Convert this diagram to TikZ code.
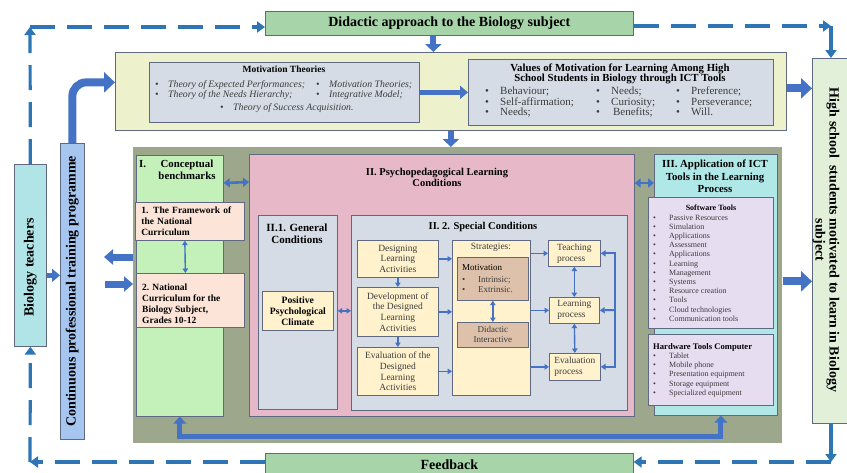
\documentclass[tikz,border=0pt]{standalone}
\usepackage{fontspec}
\setmainfont{Liberation Serif}
\usetikzlibrary{arrows.meta,positioning,calc}

\definecolor{cBlue}{RGB}{68,114,196}
\definecolor{cDash}{RGB}{46,117,182}
\definecolor{cBorder}{RGB}{95,105,130}
\definecolor{cGreen}{RGB}{168,212,170}
\definecolor{cYel}{RGB}{238,242,204}
\definecolor{cSlate}{RGB}{214,220,229}
\definecolor{cOlive}{RGB}{156,167,140}
\definecolor{cLGreen}{RGB}{196,240,186}
\definecolor{cPeach}{RGB}{252,229,216}
\definecolor{cPink}{RGB}{230,184,200}
\definecolor{cCream}{RGB}{255,242,204}
\definecolor{cTan}{RGB}{221,193,170}
\definecolor{cCyan}{RGB}{176,232,232}
\definecolor{cLav}{RGB}{230,221,240}
\definecolor{cTeach}{RGB}{176,228,230}
\definecolor{cProg}{RGB}{166,198,240}
\definecolor{cMint}{RGB}{226,240,218}
\definecolor{cText}{RGB}{60,60,60}

\newcommand{\fsz}[2]{\fontsize{#1}{#2}\selectfont}
\newcommand{\bul}[1]{\makebox[#1][l]{\textbullet}}

\begin{document}
\begin{tikzpicture}[x=1pt,y=-1pt,
  box/.style={draw=cBorder, line width=0.7pt, inner sep=2pt, anchor=north west},
  txt/.style={inner sep=0pt},
  flow/.style={cBlue, line width=1.4pt, -{Triangle[length=4.5pt,width=5.5pt]}},
  both/.style={cBlue, line width=1.4pt, {Triangle[length=4.5pt,width=5.5pt]}-{Triangle[length=4.5pt,width=5.5pt]}},
  rail/.style={cBlue, line width=2pt},
  link/.style={cBlue, line width=2.6pt, {Triangle[length=6pt,width=9pt]}-{Triangle[length=6pt,width=9pt]}},
  midfat/.style={cBlue, line width=5pt, -{Triangle[length=8pt,width=13pt]}},
  fat/.style={cBlue, line width=6pt, -{Triangle[length=8pt,width=16pt]}},
  block/.style={cBlue, line width=7pt, -{Triangle[length=9pt,width=15pt]}},
  huge/.style={cBlue, line width=8pt, -{Triangle[length=11pt,width=20pt]}},
  dashflow/.style={cDash, line width=3.2pt, dash pattern=on 25pt off 12pt, -{Triangle[length=8pt,width=11pt]}},
  solidflow/.style={cDash, line width=3.2pt, -{Triangle[length=8pt,width=11pt]}}]
\fill[white] (0,0) rectangle (847,472);
\useasboundingbox (0,0) rectangle (847,472);

% outer frame
\node[box, fill=cGreen, minimum width=368pt, minimum height=24pt, font=\bfseries\fsz{14}{15}] (didactic) at (265,11) {Didactic approach to the Biology subject};
\node[box, fill=cGreen, minimum width=368pt, minimum height=22pt, font=\bfseries\fsz{14}{15}] (feedback) at (265,453) {Feedback};
\node[box, fill=cTeach, minimum width=32pt, minimum height=182pt] (teachers) at (14,164) {};
\node[txt, rotate=90, font=\bfseries\fsz{14}{16}] (teachtxt) at ([yshift=-12pt]teachers.center) {Biology teachers};
\node[box, fill=cProg, minimum width=24pt, minimum height=296pt] (prog) at (60,143) {};
\node[txt, rotate=90, font=\bfseries\fsz{14}{16}] (progtxt) at (prog.center) {Continuous professional training programme};
\node[box, fill=cMint, minimum width=38pt, minimum height=365pt] (hs) at (812,58) {};
\node[txt, rotate=-90, align=center, font=\bfseries\fsz{14}{12}] (hstxt) at (826,240) {High school\ \ students motivated to learn in Biology\\subject};

% motivation band
\node[box, fill=cYel, minimum width=671pt, minimum height=78pt] (topbox) at (115,52) {};
\node[box, fill=cSlate, minimum width=270pt, minimum height=60pt] (theories) at (149,62) {};
\node[txt, font=\bfseries\fsz{9.5}{11}] (theotitle) at (284,69) {Motivation Theories};
\node[txt, anchor=north west, align=left, font=\itshape\fsz{9.8}{10}, text=cText] (theo1) at (155,80) {\bul{13pt}Theory of Expected Performances;\\\bul{13pt}Theory of the Needs Hierarchy;};
\node[txt, anchor=north west, align=left, font=\itshape\fsz{9.8}{10}, text=cText] (theo2) at (316,80) {\bul{13pt}Motivation Theories;\\\bul{13pt}Integrative Model;};
\node[txt, anchor=north west, align=left, font=\itshape\fsz{9.8}{10}, text=cText] (theo3) at (220,103) {\bul{13pt}Theory of Success Acquisition.};
\node[box, fill=cSlate, minimum width=305pt, minimum height=66pt] (values) at (468,59) {};
\node[txt, align=center, font=\bfseries\fsz{10.8}{10.5}] (valtitle) at (620,74) {Values of Motivation for Learning Among High\\School Students in Biology through ICT Tools};
\node[txt, anchor=north west, align=left, font=\fsz{11}{10.5}, text=cText] (val1) at (485,87) {\bul{15pt}Behaviour;\\\bul{15pt}Self-affirmation;\\\bul{15pt}Needs;};
\node[txt, anchor=north west, align=left, font=\fsz{11}{10.5}, text=cText] (val2) at (596,87) {\bul{15pt}Needs;\\\bul{15pt}Curiosity;\\\bul{15pt}\,Benefits;};
\node[txt, anchor=north west, align=left, font=\fsz{11}{10.5}, text=cText] (val3) at (676,87) {\bul{15pt}Preference;\\\bul{15pt}Perseverance;\\\bul{15pt}Will.};

% main area
\node[box, draw=none, fill=cOlive, minimum width=649pt, minimum height=296pt] (mainarea) at (133,147) {};

% I
\node[box, fill=cLGreen, minimum width=87pt, minimum height=261pt] (secI) at (136,155) {};
\node[txt, anchor=west, font=\bfseries\fsz{10.8}{12}] (Inum) at (139,164) {I.};
\node[txt, align=center, font=\bfseries\fsz{10.8}{12}] (Ititle) at (187,170) {Conceptual\\benchmarks};
\node[box, fill=cPeach, minimum width=109pt, minimum height=38pt, inner xsep=6pt, text width=97pt, align=left, font=\bfseries\fsz{9.5}{10.8}] (frame) at (135,202) {1. The Framework of\\the National\\Curriculum};
\node[box, fill=cPeach, minimum width=108pt, minimum height=54pt] (natl) at (136,273) {};
\node[txt, anchor=north west, align=left, font=\bfseries\fsz{9.5}{10.8}] (natltxt) at (142,284) {2. National\\Curriculum for the\\Biology Subject,\\Grades 10-12};

% II
\node[box, fill=cPink, minimum width=385pt, minimum height=262pt] (secII) at (249,154) {};
\node[txt, align=center, font=\bfseries\fsz{10.5}{11.5}] (IItitle) at (437,177.5) {II. Psychopedagogical Learning\\Conditions};
\node[box, fill=cSlate, minimum width=79pt, minimum height=194pt] (gen) at (258,215) {};
\node[txt, align=center, font=\bfseries\fsz{11}{12}] (gentitle) at (297,234) {II.1. General\\Conditions};
\node[box, fill=cCream, minimum width=71pt, minimum height=39pt, align=center, font=\bfseries\fsz{9.7}{11}] (ppc) at (262,291) {Positive\\Psychological\\Climate};
\node[box, fill=cSlate, minimum width=276pt, minimum height=195pt] (spec) at (351,215) {};
\node[txt, font=\bfseries\fsz{10.5}{12}] (spectitle) at (483,227) {II. 2. Special Conditions};
\node[box, fill=cCream, minimum width=81pt, minimum height=37pt, align=center, font=\fsz{9.5}{10.7}, text=cText] (design) at (357,240) {Designing\\Learning\\Activities};
\node[box, fill=cCream, minimum width=81pt, minimum height=49pt, align=center, font=\fsz{9.5}{10.7}, text=cText] (dev) at (357,287) {Development of\\the Designed\\Learning\\Activities};
\node[box, fill=cCream, minimum width=81pt, minimum height=48pt, align=center, font=\fsz{9.5}{10.7}, text=cText] (evalact) at (357,347) {Evaluation of the\\Designed\\Learning\\Activities};
\node[box, fill=cCream, minimum width=78pt, minimum height=155pt] (strat) at (452,240) {};
\node[txt, font=\fsz{9.5}{11}, text=cText] (strattxt) at (491,247) {Strategies:};
\node[box, fill=cTan, minimum width=71pt, minimum height=43pt] (motiv) at (457,257) {};
\node[txt, anchor=west, font=\fsz{9}{10}] (motivtxt) at (462,268) {Motivation};
\node[txt, anchor=north west, align=left, font=\fsz{9}{10}, text=cText] (motivlist) at (462,276) {\bul{16pt}Intrinsic;\\\bul{16pt}Extrinsic.};
\node[box, fill=cTan, minimum width=71pt, minimum height=25pt, align=center, font=\fsz{9}{10}, text=cText] (didint) at (457,322) {Didactic\\Interactive};
\node[box, fill=cCream, minimum width=52pt, minimum height=26pt, align=left, font=\fsz{9.4}{11}, text=cText] (teach) at (548,240) {Teaching\\process};
\node[box, fill=cCream, minimum width=50pt, minimum height=26pt, align=left, font=\fsz{9.4}{11}, text=cText] (learn) at (549,297) {Learning\\process};
\node[box, fill=cCream, minimum width=51pt, minimum height=27pt, align=left, font=\fsz{9.4}{11}, text=cText] (evalp) at (549,353) {Evaluation\\process};

% III
\node[box, fill=cCyan, minimum width=123pt, minimum height=261pt] (secIII) at (654,154) {};
\node[txt, align=center, font=\bfseries\fsz{10.8}{12.5}] (IIItitle) at (715,176.5) {III. Application of ICT\\Tools in the Learning\\Process};
\node[box, fill=cLav, minimum width=125pt, minimum height=131pt] (soft) at (648,197) {};
\node[txt, font=\bfseries\fsz{8}{9}] (softtitle) at (711,208) {Software Tools};
\node[txt, anchor=north west, align=left, font=\fsz{8}{9.2}, text=cText] (softlist) at (653,214.5) {\bul{16pt}Passive Resources\\\bul{16pt}Simulation\\\bul{16pt}Applications\\\bul{16pt}Assessment\\\bul{16pt}Applications\\\bul{16pt}Learning\\\bul{16pt}Management\\\bul{16pt}Systems\\\bul{16pt}Resource creation\\\bul{16pt}Tools\\\bul{16pt}Cloud technologies\\\bul{16pt}Communication tools};
\node[box, fill=cLav, minimum width=125pt, minimum height=71pt] (hard) at (648,334) {};
\node[txt, anchor=west, font=\bfseries\fsz{8.6}{10}] (hardtitle) at (653,347) {Hardware Tools Computer};
\node[txt, anchor=north west, align=left, font=\fsz{8}{9.3}, text=cText] (hardlist) at (653,352.5) {\bul{16pt}Tablet\\\bul{16pt}Mobile phone\\\bul{16pt}Presentation equipment\\\bul{16pt}Storage equipment\\\bul{16pt}Specialized equipment};

% block arrows
\draw[huge, rounded corners=14pt] (prog.north) |- ([yshift=9pt]topbox.west);
\draw[fat] ([xshift=-16pt]didactic.south) -- ([xshift=-16pt]didactic.south |- topbox.north);
\draw[fat] (topbox.south) -- (topbox.south |- mainarea.north);
\draw[midfat] (theories.east) -- (theories.east -| values.west);
\draw[huge] ([yshift=3pt]topbox.east) -- ([yshift=3pt]topbox.east -| hs.west);
\draw[huge] ([yshift=14pt]mainarea.east) -- ([yshift=14pt]mainarea.east -| hs.west);
\draw[midfat] ([yshift=-20pt]teachers.east) -- ([yshift=-20pt]teachers.east -| prog.west);
\coordinate (progout) at (104,257);
\coordinate (progin) at (105,284);
\draw[block] (mainarea.west |- progout) -- (progout);
\draw[block] (progin) -- (mainarea.west |- progin);

% links between parts
\draw[link] ($(secI.north east)+(0,28)$) -- ($(secII.north west)+(0,28)$);
\draw[link] ($(secII.north east)+(0,29)$) -- ($(secIII.north west)+(0,29)$);
\draw[both] ([xshift=-5pt]frame.south) -- ([xshift=-5pt]natl.north);
\draw[both] (ppc.east -| gen.east) -- (ppc.east -| spec.west);
\draw[cBlue, line width=5pt, {Triangle[length=7pt,width=13pt]}-{Triangle[length=7pt,width=13pt]}] (secI.south) -- ++(0,20) -| ([xshift=5pt]secIII.south);

% special conditions
\draw[flow] (design.south) -- (dev.north);
\draw[flow] (dev.south) -- (evalact.north);
\draw[flow] (design.east) -- (design.east -| strat.west);
\draw[flow] (dev.east) -- (dev.east -| strat.west);
\draw[flow] (evalact.east) -- (evalact.east -| strat.west);
\draw[flow] (strat.east |- teach.west) -- (teach.west);
\draw[flow] (strat.east |- learn.west) -- (learn.west);
\draw[flow] (strat.east |- evalp.west) -- (evalp.west);
\draw[both] (teach.south) -- (learn.north);
\draw[both] (learn.south) -- (evalp.north);
\draw[both] (motiv.south) -- (didint.north);
\coordinate (rb) at (615,310);
\draw[rail, {Triangle[length=5pt,width=6pt]}-{Triangle[length=5pt,width=6pt]}] (teach.east) -- (teach.east -| rb) -- (evalp.east -| rb) -- (evalp.east);
\draw[rail, -{Triangle[length=5pt,width=6pt]}] (rb) -- (learn.east);

% feedback loop
\coordinate (tl) at (30,27);
\coordinate (bl) at (30,462);
\coordinate (tr) at (831,26);
\coordinate (br) at (831,462);
\draw[dashflow] (teachers.north) -- (tl);
\draw[dashflow] (tl) -- (tl -| didactic.west);
\draw[dashflow] (didactic.east |- tr) -- (tr);
\draw[solidflow] (tr) -- (tr |- hs.north);
\draw[solidflow] (hs.south -| br) -- (br);
\draw[dashflow] (br) -- (br -| feedback.east);
\draw[dashflow] (feedback.west |- bl) -- (bl);
\draw[dashflow] (bl) -- (teachers.south);
\end{tikzpicture}
\end{document}
